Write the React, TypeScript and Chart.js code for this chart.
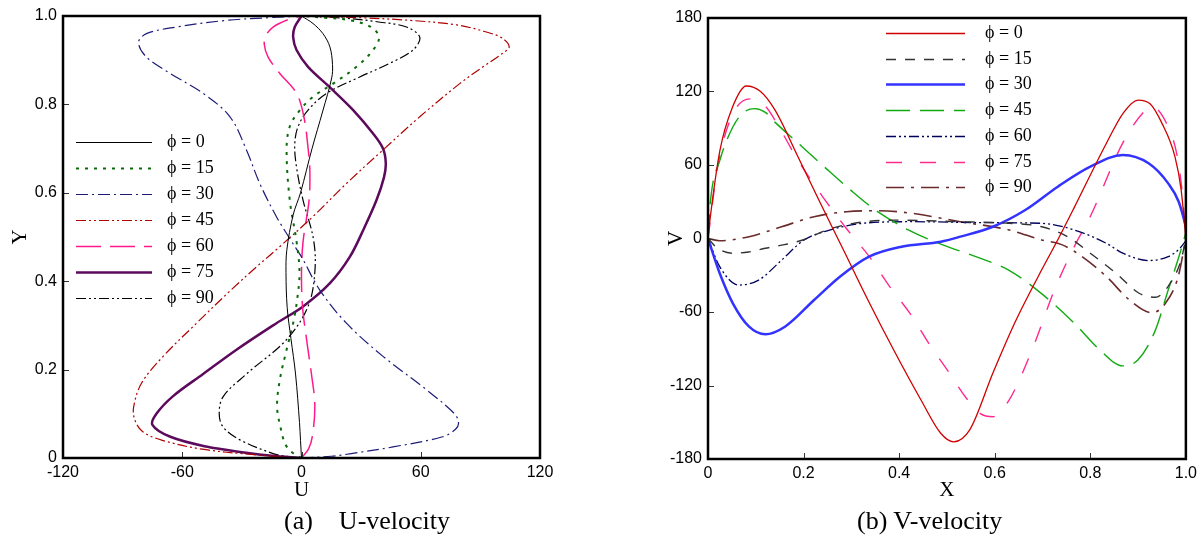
import React, { useEffect, useRef } from "react";
import { Chart, registerables } from "chart.js";

Chart.register(...registerables);

// Legend labels shared by both panels
const phiLabels = ["ϕ = 0", "ϕ = 15", "ϕ = 30", "ϕ = 45", "ϕ = 60", "ϕ = 75", "ϕ = 90"];

// Axis ticks
const uTicks = [-120, -60, 0, 60, 120];
const yTicks = [0, 0.2, 0.4, 0.6, 0.8, 1];
const xTicks = [0, 0.2, 0.4, 0.6, 0.8, 1];
const vTicks = [-180, -120, -60, 0, 60, 120, 180];

// (a) U-velocity profiles along the vertical centre line: [Y, U]
const uPhi0: [number, number][] = [
  [0, 0], [0.04, -0.5], [0.08, -1], [0.19, -3], [0.27, -5.3], [0.34, -7.2], [0.42, -7.8], [0.47, -7.4],
  [0.55, -4.2], [0.6, -0.5], [0.7, 5.3], [0.785, 10.7], [0.86, 15.2], [0.89, 15.6], [0.93, 14.3],
  [0.96, 10.8], [0.983, 5.8], [1, 0],
];
const uPhi15: [number, number][] = [
  [0, 0], [0.01, -4], [0.03, -8], [0.07, -10.6], [0.117, -12.3], [0.177, -10.9], [0.245, -7.5],
  [0.305, -4.2], [0.358, -2.2], [0.42, -1], [0.49, -2.5], [0.583, -5.9], [0.697, -7.5], [0.75, -5.9],
  [0.787, -0.8], [0.817, 5.8], [0.847, 15.9], [0.885, 27.7], [0.923, 36], [0.952, 39], [0.975, 35],
  [0.99, 25], [0.996, 12], [1, 0],
];
const uPhi30: [number, number][] = [
  [0, 0], [0.004, 15], [0.01, 25], [0.025, 46], [0.048, 71], [0.065, 77.5], [0.08, 79], [0.1, 77],
  [0.154, 63], [0.23, 41], [0.305, 22.6], [0.38, 9.2], [0.455, 0], [0.49, -5], [0.546, -12.6],
  [0.621, -21], [0.697, -27.7], [0.772, -36], [0.825, -49.5], [0.87, -66], [0.907, -78], [0.94, -82],
  [0.96, -78], [0.975, -63], [0.99, -38], [0.996, -17], [1, 0],
];
const uPhi45: [number, number][] = [
  [0, 0], [0.008, -25], [0.02, -50], [0.04, -70], [0.06, -80], [0.088, -84], [0.117, -84.4], [0.169, -80.5],
  [0.23, -69.6], [0.305, -52.8], [0.38, -35.5], [0.433, -22.5], [0.478, -11], [0.546, 5.7], [0.621, 22.6],
  [0.697, 41], [0.772, 59.5], [0.847, 79.6], [0.885, 91.3], [0.915, 101], [0.93, 104.5], [0.95, 101],
  [0.965, 92], [0.98, 78], [0.99, 55], [0.996, 30], [1, 0],
];
const uPhi60: [number, number][] = [
  [0, 0], [0.02, 3.5], [0.05, 5.5], [0.12, 6.7], [0.19, 5], [0.27, 2.5], [0.343, 0.5], [0.42, 0],
  [0.49, 0.8], [0.583, 3.8], [0.65, 4.2], [0.697, 3.4], [0.772, 1.2], [0.825, -2.5], [0.87, -10.9],
  [0.907, -16.8], [0.935, -18.7], [0.955, -18], [0.975, -14.3], [0.993, -6], [1, 0],
];
const uPhi75: [number, number][] = [
  [0, 0], [0.005, -15], [0.012, -28], [0.026, -48], [0.048, -66], [0.075, -75], [0.1, -73], [0.14, -64.6],
  [0.19, -49.5], [0.245, -32.7], [0.305, -12.6], [0.343, 0.8], [0.395, 14.2], [0.455, 24.3], [0.52, 31.5],
  [0.583, 37.7], [0.635, 41.5], [0.667, 42.4], [0.7, 41], [0.734, 36], [0.787, 26], [0.839, 14.2],
  [0.885, 3.3], [0.923, -2.5], [0.952, -4.2], [0.975, -3.4], [1, 0],
];
const uPhi90: [number, number][] = [
  [0, 0], [0.004, -8], [0.01, -14.3], [0.041, -31], [0.07, -39.4], [0.1, -41.4], [0.139, -39.4],
  [0.19, -27.7], [0.268, -7.5], [0.343, 3.3], [0.42, 6.7], [0.493, 6.1], [0.583, 0.8], [0.658, -2.5],
  [0.71, -3.4], [0.75, -1.7], [0.787, 3.3], [0.825, 12.6], [0.862, 29.3], [0.893, 44.4], [0.923, 56.1],
  [0.952, 59.5], [0.975, 52.8], [0.987, 38], [0.995, 22], [1, 0],
];

// (b) V-velocity profiles along the horizontal centre line: [X, V]
const vPhi0: [number, number][] = [
  [0, 0], [0.005, 18], [0.025, 72], [0.05, 106], [0.08, 124.5], [0.11, 120], [0.14, 105], [0.188, 67],
  [0.235, 29], [0.283, -9], [0.337, -52], [0.39, -92], [0.446, -132], [0.487, -159], [0.514, -166],
  [0.548, -156], [0.596, -110], [0.643, -68], [0.691, -31], [0.732, -1], [0.766, 25], [0.834, 78],
  [0.87, 103], [0.9, 113], [0.925, 110], [0.95, 94], [0.977, 67], [0.99, 40], [1, 0],
];
const vPhi15: [number, number][] = [
  [0, 0], [0.02, -8], [0.052, -12], [0.085, -11], [0.12, -8], [0.16, -5], [0.2, -1], [0.256, 8],
  [0.324, 13.5], [0.392, 15], [0.46, 14.5], [0.528, 13.7], [0.63, 12.4], [0.698, 9.6], [0.752, 1.5],
  [0.8, -12], [0.854, -28.4], [0.902, -44.7], [0.936, -48], [0.963, -39], [0.99, -17.6], [1, 0],
];
const vPhi30: [number, number][] = [
  [0, 0], [0.0245, -28.4], [0.052, -52.9], [0.086, -72], [0.12, -78.2], [0.161, -72], [0.222, -50.2],
  [0.276, -31.2], [0.337, -14.8], [0.405, -6.7], [0.487, -2.6], [0.528, 1.5], [0.596, 9.6],
  [0.664, 23.3], [0.732, 42.3], [0.8, 58.6], [0.868, 68.2], [0.922, 61.4], [0.963, 45], [0.985, 30],
  [1, 10],
];
const vPhi45: [number, number][] = [
  [0, 0], [0.005, 30], [0.025, 64], [0.052, 91], [0.075, 103], [0.098, 106], [0.12, 103], [0.14, 95],
  [0.188, 78], [0.242, 59], [0.297, 40], [0.351, 23], [0.419, 7], [0.49, -5], [0.562, -15], [0.63, -26],
  [0.698, -45], [0.766, -69], [0.82, -91], [0.868, -104], [0.9, -99], [0.936, -75], [0.963, -42],
  [0.99, -9], [1, 5],
];
const vPhi60: [number, number][] = [
  [0, 0], [0.0245, -23], [0.065, -38], [0.106, -34], [0.154, -17.6], [0.201, -1.2], [0.256, 7],
  [0.324, 12.4], [0.426, 13.7], [0.596, 12.9], [0.698, 12.4], [0.766, 7], [0.834, -4], [0.868, -12],
  [0.922, -18], [0.963, -14.8], [0.985, -9], [1, -2],
];
const vPhi75: [number, number][] = [
  [0, 0], [0.02, 58], [0.05, 100], [0.088, 114], [0.12, 108], [0.15, 90], [0.188, 64], [0.242, 33],
  [0.29, 8], [0.338, -15], [0.378, -38], [0.426, -63], [0.461, -85], [0.502, -108], [0.54, -130],
  [0.57, -143], [0.596, -145.5], [0.63, -132], [0.678, -91], [0.725, -42], [0.766, -7], [0.8, 18],
  [0.868, 78], [0.909, 102], [0.929, 107.5], [0.963, 91], [0.982, 67], [0.993, 35], [1, 0],
];
const vPhi90: [number, number][] = [
  [0, 0], [0.0245, -1.8], [0.086, 1.5], [0.154, 9.6], [0.222, 17.8], [0.29, 21.9], [0.358, 22.7],
  [0.426, 20.6], [0.528, 13.7], [0.63, 7], [0.698, -1.2], [0.74, -5], [0.78, -14], [0.834, -31.2],
  [0.882, -50.2], [0.929, -60.6], [0.957, -53], [0.984, -31], [1, 0],
];

type LineStyle = { color: string; width: number; dash: number[] };

const uStyles: LineStyle[] = [
  { color: "#000000", width: 1, dash: [] },
  { color: "#0b6b0b", width: 2, dash: [3, 6] },
  { color: "#1c1c78", width: 1.2, dash: [12, 4, 2, 4] },
  { color: "#b00000", width: 1.2, dash: [10, 3, 2, 3, 2, 3] },
  { color: "#ff1a8c", width: 1.5, dash: [25, 9] },
  { color: "#5c0a5c", width: 2.5, dash: [] },
  { color: "#000000", width: 1.2, dash: [10, 3, 2, 3, 2, 3] },
];

const vStyles: LineStyle[] = [
  { color: "#d00000", width: 1.3, dash: [] },
  { color: "#333333", width: 1.4, dash: [10, 9] },
  { color: "#3333ff", width: 2.5, dash: [] },
  { color: "#11aa11", width: 1.4, dash: [24, 10] },
  { color: "#00005a", width: 1.3, dash: [10, 3, 2, 3, 2, 3] },
  { color: "#ff2a8c", width: 1.4, dash: [16, 18] },
  { color: "#6b2b2b", width: 1.6, dash: [18, 7, 3, 7] },
];

const tickFont = { family: "'Liberation Sans', Arial, sans-serif", size: 16 };
const titleFont = { family: "'Liberation Serif', 'Times New Roman', serif", size: 21 };
const keyFont = "18px 'Liberation Serif', 'Times New Roman', serif";

type KeyLayout = { x1: number; x2: number; textX: number; y0: number; step: number };

// Draws the boxed frame, inward tick marks and the line key
function frameAndKey(key: KeyLayout) {
  return {
    id: "frameAndKey",
    afterDraw(chart: any) {
      const { ctx, chartArea: a, scales } = chart;
      ctx.save();
      ctx.setLineDash([]);
      ctx.strokeStyle = "#333";
      ctx.lineWidth = 1;
      scales.x.ticks.forEach((t: any) => {
        const px = Math.round(scales.x.getPixelForValue(t.value)) + 0.5;
        ctx.beginPath();
        ctx.moveTo(px, a.bottom);
        ctx.lineTo(px, a.bottom - 6);
        ctx.stroke();
      });
      scales.y.ticks.forEach((t: any) => {
        const py = Math.round(scales.y.getPixelForValue(t.value)) + 0.5;
        ctx.beginPath();
        ctx.moveTo(a.left, py);
        ctx.lineTo(a.left + 6, py);
        ctx.stroke();
      });
      ctx.strokeStyle = "#000";
      ctx.lineWidth = 2.5;
      ctx.strokeRect(a.left, a.top, a.right - a.left, a.bottom - a.top);

      chart.data.datasets.forEach((ds: any, i: number) => {
        const y = Math.round(key.y0 + i * key.step) + 0.5;
        ctx.beginPath();
        ctx.setLineDash(ds.borderDash || []);
        ctx.lineWidth = ds.borderWidth;
        ctx.strokeStyle = ds.borderColor;
        ctx.moveTo(key.x1, y);
        ctx.lineTo(key.x2, y);
        ctx.stroke();
        ctx.setLineDash([]);
        ctx.fillStyle = "#000";
        ctx.font = keyFont;
        ctx.textBaseline = "middle";
        ctx.textAlign = "left";
        ctx.fillText(ds.label, key.textX, y);
      });
      ctx.restore();
    },
  };
}

// Profiles of U run bottom-to-top, so they are smoothed with a 2-D spline;
// profiles of V are single-valued in X and use monotone interpolation.
function makeDatasets(series: [number, number][][], styles: LineStyle[], vertical: boolean) {
  return series.map((s, i) => ({
    label: phiLabels[i],
    data: s.map(([a, b]) => (vertical ? { x: b, y: a } : { x: a, y: b })),
    borderColor: styles[i].color,
    borderWidth: styles[i].width,
    borderDash: styles[i].dash,
    pointRadius: 0,
    fill: false,
    showLine: true,
    ...(vertical ? { tension: 0.35 } : { cubicInterpolationMode: "monotone" as const }),
  }));
}

function axis(min: number, max: number, step: number, title: string, titlePad: any, fit: (s: any) => void, pad: number) {
  return {
    type: "linear" as const,
    min,
    max,
    grid: { display: false, drawTicks: false },
    border: { display: false },
    ticks: {
      stepSize: step,
      autoSkip: false,
      maxRotation: 0,
      padding: pad,
      color: "#000",
      font: tickFont,
    },
    title: { display: true, text: title, color: "#000", font: titleFont, padding: titlePad },
    afterFit: fit,
  };
}

export default function App() {
  const leftRef = useRef<HTMLCanvasElement>(null);
  const rightRef = useRef<HTMLCanvasElement>(null);

  useEffect(() => {
    const left = new Chart(leftRef.current!, {
      type: "scatter",
      data: {
        datasets: makeDatasets([uPhi0, uPhi15, uPhi30, uPhi45, uPhi60, uPhi75, uPhi90], uStyles, true) as any,
      },
      options: {
        animation: false,
        responsive: false,
        layout: { padding: { top: 16, right: 60, left: 0, bottom: 0 } },
        plugins: { legend: { display: false }, tooltip: { enabled: false } },
        scales: {
          x: {
            ...axis(-120, 120, 60, "U", { top: 0, bottom: 36 }, (s) => { s.height = 81; }, 5),
            afterBuildTicks: (s: any) => { s.ticks = uTicks.map((v) => ({ value: v })); },
          },
          y: {
            ...axis(0, 1, 0.2, "Y", { top: 8, bottom: 0 }, (s) => { s.width = 63; }, 6),
            afterBuildTicks: (s: any) => { s.ticks = yTicks.map((v) => ({ value: v })); },
          },
        } as any,
      },
      plugins: [frameAndKey({ x1: 76, x2: 152, textX: 167, y0: 142, step: 26 })],
    });

    const right = new Chart(rightRef.current!, {
      type: "line",
      data: {
        datasets: makeDatasets([vPhi0, vPhi15, vPhi30, vPhi45, vPhi60, vPhi75, vPhi90], vStyles, false) as any,
      },
      options: {
        animation: false,
        responsive: false,
        layout: { padding: { top: 18, right: 4, left: 0, bottom: 0 } },
        plugins: { legend: { display: false }, tooltip: { enabled: false } },
        scales: {
          x: {
            ...axis(0, 1, 0.2, "X", { top: 0, bottom: 36 }, (s) => { s.height = 80; }, 5),
            afterBuildTicks: (s: any) => { s.ticks = xTicks.map((v) => ({ value: v })); },
          },
          y: {
            ...axis(-180, 180, 60, "V", { top: 64, bottom: 0 }, (s) => { s.width = 108; }, 6),
            afterBuildTicks: (s: any) => { s.ticks = vTicks.map((v) => ({ value: v })); },
          },
        } as any,
      },
      plugins: [frameAndKey({ x1: 286, x2: 365, textX: 385, y0: 33, step: 25.7 })],
    });

    return () => {
      left.destroy();
      right.destroy();
    };
  }, []);

  const caption: React.CSSProperties = {
    position: "absolute",
    top: 505,
    fontFamily: "'Liberation Serif', 'Times New Roman', serif",
    fontSize: 26,
    lineHeight: "32px",
    whiteSpace: "pre",
    color: "#000",
  };

  return (
    <div style={{ position: "absolute", left: 0, top: 0, width: 1202, height: 539, background: "#fff", overflow: "hidden" }}>
      <canvas ref={leftRef} width={600} height={539} style={{ position: "absolute", left: 0, top: 0, width: 600, height: 539 }} />
      <canvas ref={rightRef} width={602} height={539} style={{ position: "absolute", left: 600, top: 0, width: 602, height: 539 }} />
      <div style={{ ...caption, left: 284 }}>{"(a)    U-velocity"}</div>
      <div style={{ ...caption, left: 857 }}>{"(b) V-velocity"}</div>
    </div>
  );
}
